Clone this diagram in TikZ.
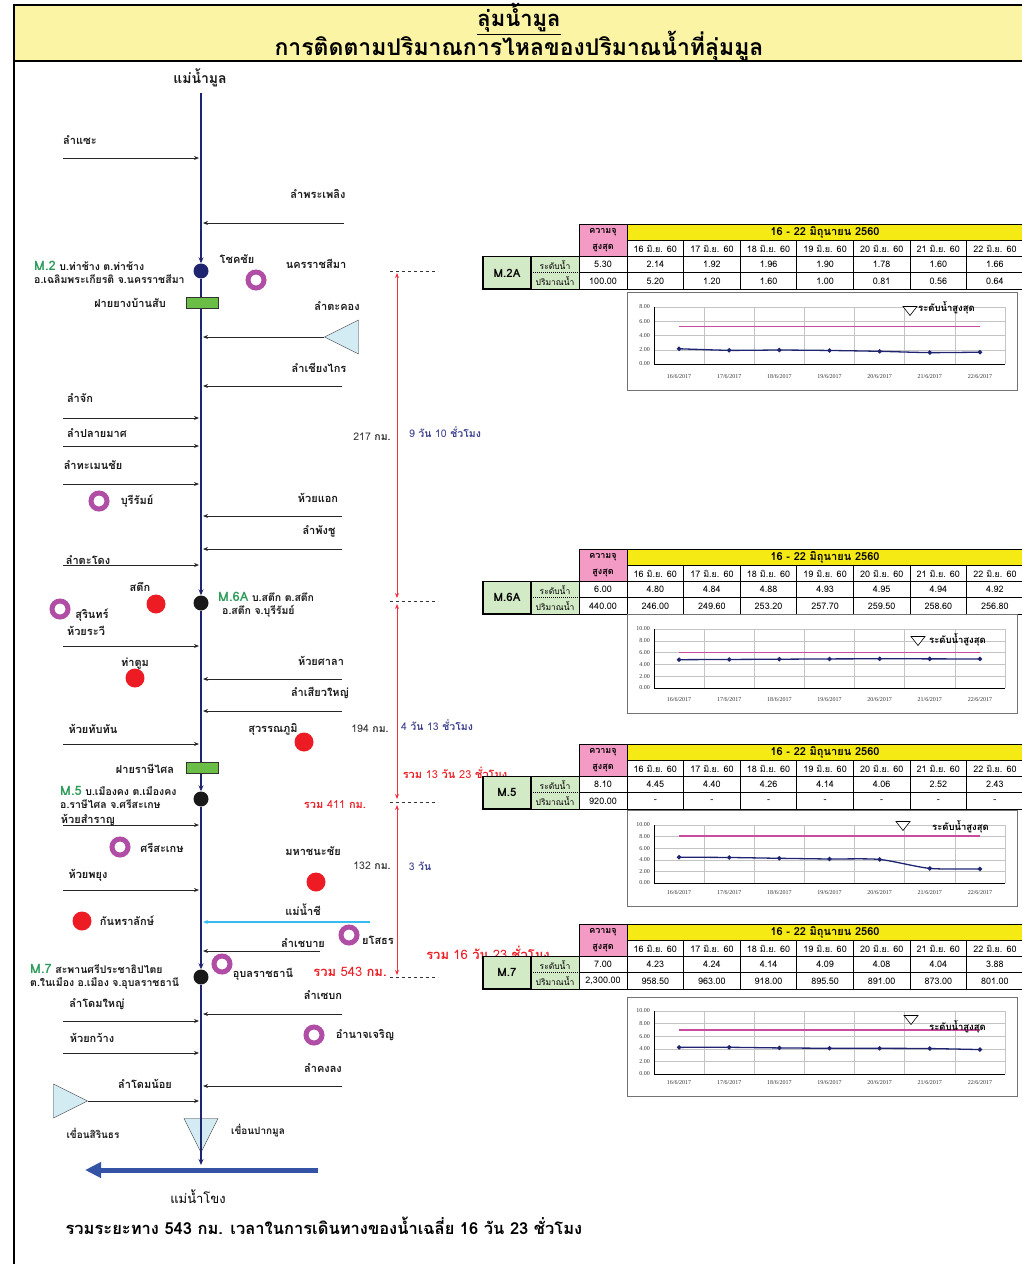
\documentclass[tikz,border=0pt]{standalone}
\usepackage{fontspec}
\setmainfont{Loma}[Script=Thai]
\newfontfamily\chartfont{Liberation Serif}
\usepackage{xcolor}
\usepackage{tikz}
\usetikzlibrary{positioning,arrows.meta,calc,shapes.geometric}
\definecolor{MUNnavy}{HTML}{1F2470}
\definecolor{MUNband}{HTML}{FBF4A4}
\definecolor{MUNyellow}{HTML}{F6EA14}
\definecolor{MUNpink}{HTML}{F39AC5}
\definecolor{MUNcell}{HTML}{D3EAC7}
\definecolor{MUNweir}{HTML}{6ABD45}
\definecolor{MUNpurple}{HTML}{B04EA6}
\definecolor{MUNred}{HTML}{ED1C24}
\definecolor{MUNdist}{HTML}{F2333F}
\definecolor{MUNdam}{HTML}{D3ECF4}
\definecolor{MUNchi}{HTML}{36BDEF}
\definecolor{MUNmekong}{HTML}{3453A4}
\definecolor{MUNstation}{HTML}{2E9C5A}
\definecolor{MUNtime}{HTML}{3B3F8C}
\definecolor{MUNmax}{HTML}{C94A9E}
\definecolor{MUNgrid}{HTML}{C4C4C4}
\newcommand{\txtsize}[1]{\fontsize{#1}{#1}\selectfont}
\tikzset{
  riverarr/.style={-{Stealth[length=6pt,width=5pt]}, draw=MUNnavy, line width=1.6pt},
  tribarr/.style={-{Stealth[length=5pt,width=4pt]}, draw=black!85, line width=0.9pt},
  chiarr/.style={tribarr, draw=MUNchi, line width=1.4pt},
  mekongarr/.style={-{Triangle[length=16pt,width=15pt]}, draw=MUNmekong, line width=5pt},
  distarr/.style={{Stealth[length=5pt,width=4pt]}-{Stealth[length=5pt,width=4pt]}, draw=MUNdist, line width=0.9pt},
  markline/.style={dashed, draw=black!80, line width=0.7pt},
  riverlab/.style={font=\txtsize{11}\bfseries, text=black!90, inner sep=1pt},
  stalab/.style={font=\fontsize{10.5}{13}\selectfont\bfseries, align=left, inner sep=0pt, text=black!90},
  titletext/.style={font=\txtsize{22}\bfseries, text=black},
  distlab/.style={font=\txtsize{10.5}, text=black!80},
  timelab/.style={font=\txtsize{10.5}, text=MUNtime},
  sumlab/.style={font=\txtsize{11}, text=MUNred},
  stadot/.style={circle, fill=black!90, minimum size=15pt, inner sep=0pt},
  cityring/.style={circle, draw=MUNpurple, line width=5pt, fill=white, minimum size=16pt, inner sep=0pt},
  citydot/.style={circle, fill=MUNred, minimum size=19pt, inner sep=0pt},
  weir/.style={draw=black!80, fill=MUNweir, minimum width=32pt, minimum height=11pt, inner sep=0pt},
  damtri/.style={isosceles triangle, isosceles triangle stretches, draw=black!80, fill=MUNdam, minimum width=34pt, minimum height=34pt, inner sep=0pt},
  tabcell/.style={draw=black, line width=1pt, minimum height=16.3pt, inner sep=0pt, font=\txtsize{9}},
  percell/.style={tabcell, fill=MUNyellow, minimum width=396pt, font=\txtsize{11}\bfseries},
  capcell/.style={tabcell, fill=MUNpink, minimum width=48pt, minimum height=32.6pt, align=center, font=\fontsize{9}{16}\selectfont\bfseries},
  datecell/.style={tabcell, minimum width=56.6pt},
  namecell/.style={tabcell, fill=MUNcell, minimum width=48pt, minimum height=32.6pt, line width=1.6pt, font=\txtsize{11.5}\bfseries},
  labcell/.style={fill=MUNcell, minimum width=48pt, minimum height=16.3pt, inner sep=0pt, font=\txtsize{8.5}},
  valcell/.style={tabcell, minimum width=48pt},
  chartframe/.style={draw=black!55, line width=1pt},
  gridline/.style={draw=MUNgrid, line width=0.5pt},
  axisline/.style={draw=black, line width=0.9pt},
  maxline/.style={draw=MUNmax, line width=1.2pt},
  dataline/.style={draw=MUNnavy, line width=1.3pt},
  datamark/.style={diamond, fill=MUNnavy, minimum size=5pt, inner sep=0pt},
  axislab/.style={font=\chartfont\txtsize{6}, text=black!80, inner sep=1pt},
  legtri/.style={draw=black, fill=white, line width=0.6pt},
  legtext/.style={font=\txtsize{9.5}\bfseries, text=black, inner sep=0pt, anchor=west}
}

% table of one station: id, top, station, max level, max flow, levels, flows
\newcommand{\stationtable}[7]{%
  \node[capcell] (#1-cap) at (603,{#2+16.3}) {ความจุ\\สูงสุด};
  \node[percell] (#1-per) at (825,{#2+8.15}) {16 - 22 มิถุนายน 2560};
  \foreach \dd [count=\i] in {16,...,22}
    \node[datecell] (#1-d\i) at ({627+(\i-0.5)*56.6},{#2+24.45}) {\dd{} มิ.ย. 60};
  \node[namecell] (#1-name) at (507,{#2+48.9}) {#3};
  \node[labcell] (#1-lvl) at (555,{#2+40.75}) {ระดับน้ำ};
  \node[labcell] (#1-flw) at (555,{#2+57.05}) {ปริมาณน้ำ};
  \draw[line width=1pt] (531,{#2+32.6}) rectangle (579,{#2+65.2});
  \draw[densely dotted, line width=1pt] (531,{#2+48.9}) -- (579,{#2+48.9});
  \node[valcell] (#1-maxl) at (603,{#2+40.75}) {#4};
  \node[valcell] (#1-maxf) at (603,{#2+57.05}) {#5};
  \foreach \v [count=\i] in {#6}
    \node[valcell, minimum width=56.6pt] (#1-l\i) at ({627+(\i-0.5)*56.6},{#2+40.75}) {\v};
  \foreach \v [count=\i] in {#7}
    \node[valcell, minimum width=56.6pt] (#1-f\i) at ({627+(\i-0.5)*56.6},{#2+57.05}) {\v};
}

% chart: id, box top, box bottom, plot top, plot bottom, y max, max level, levels
\newcommand{\levelchart}[8]{%
  \draw[chartframe] (627,#2) rectangle (1017,#3);
  \foreach \k in {1,...,7}
    \draw[gridline] ({654+\k*50.14},#4) -- ({654+\k*50.14},#5);
  \foreach \g in {0,2,...,#6} {
    \draw[gridline] (654,{#5-\g/#6*(#5-#4)}) -- (1005,{#5-\g/#6*(#5-#4)});
    \node[axislab, anchor=east] (#1-y\g) at (651,{#5-\g/#6*(#5-#4)}) {\g.00};
  }
  \draw[axisline] (654,#4) -- (654,#5) -- (1005,#5);
  \draw[maxline] ({654+0.5*50.14},{#5-#7/#6*(#5-#4)}) -- ({654+6.5*50.14},{#5-#7/#6*(#5-#4)});
  \foreach \dd [count=\i] in {16,...,22}
    \node[axislab] (#1-x\i) at ({654+(\i-0.5)*50.14},{#3-13}) {\dd/6/2017};
  \gdef\ptlist{}%
  \foreach \v [count=\i] in {#8} {
    \pgfmathsetmacro\px{654+(\i-0.5)*50.14}
    \pgfmathsetmacro\py{#5-\v/#6*(#5-#4)}
    \xdef\ptlist{\ptlist (\px,\py)}
  }
  \edef\plotcmd{\noexpand\draw[dataline] plot[smooth, tension=0.45] coordinates {\ptlist};}\plotcmd
  \foreach \v [count=\i] in {#8}
    \node[datamark] (#1-p\i) at ({654+(\i-0.5)*50.14},{#5-\v/#6*(#5-#4)}) {};
}

% legend: id, triangle x, triangle y, text x, text y
\newcommand{\legendmark}[5]{%
  \coordinate (#1-leg) at (#2,#3);
  \draw[legtri] ($(#1-leg)+(-7,-4.5)$) -- ($(#1-leg)+(7,-4.5)$) -- ($(#1-leg)+(0,4.5)$) -- cycle;
  \node[legtext] (#1-legtext) at (#4,#5) {ระดับน้ำสูงสุด};
}

\begin{document}
\begin{tikzpicture}[x=1pt, y=-1pt]
\useasboundingbox (0,0) rectangle (1022,1264);
% header
\fill[MUNband] (14,5) rectangle (1022,61);
\draw[line width=2.2pt] (1022,5) -- (14,5) -- (14,1264);
\draw[line width=2.2pt] (14,61) -- (1022,61);
\node[titletext] (title) at (519,19) {\underline{ลุ่มน้ำมูล}};
\node[titletext, font=\txtsize{23}\bfseries] (subtitle) at (519,46) {การติดตามปริมาณการไหลของปริมาณน้ำที่ลุ่มมูล};

% main river
\node[riverlab, font=\txtsize{14}\bfseries] (mun) at (200,78) {แม่น้ำมูล};
\coordinate (mun-top) at (201,93);
\coordinate (mun-end) at (201,1165);
\node[stadot, fill=MUNnavy] (m2) at (201,271) {};
\node[stadot] (m6a) at (201,603) {};
\node[stadot] (m5) at (201,799) {};
\node[stadot] (m7) at (201,977) {};
\node[damtri, shape border rotate=270, anchor=apex] (pakmun) at (201,1153) {};
\draw[riverarr] (mun-top) -- (m2);
\draw[riverarr] (m2) -- (m6a);
\draw[riverarr] (m6a) -- (m5);
\draw[riverarr] (m5) -- (m7);
\draw[riverarr] (m7) -- (mun-end);
\node[weir] (bansap) at (202,303) {};
\node[weir] (rasi) at (202,768) {};
\node[riverlab] (bansap-lab) at (130,303) {ฝายยางบ้านสับ};
\node[riverlab] (rasi-lab) at (145,769) {ฝายราษีไศล};

% tributaries from the left
\foreach \id/\ty/\lx/\ly/\txt in {sae/158/80/140/ลำแซะ, chak/418/80/398/ลำจัก, plm/446/97/433/ลำปลายมาศ,
    tmc/484/93/465/ลำทะเมนชัย, tdg/565/88/560/ลำตะโดง, rawi/646/86/631/ห้วยระวี, tt/744/93/729/ห้วยทับทัน,
    sr/825/88/820/ห้วยสำราญ, py/890/88/875/ห้วยพยุง, dy/1021/97/1004/ลำโดมใหญ่, kw/1053/92/1038/ห้วยกว้าง}{
  \coordinate (\id-s) at (63,\ty);
  \coordinate (\id-e) at (199,\ty);
  \draw[tribarr] (\id-s) -- (\id-e);
  \node[riverlab] (\id) at (\lx,\ly) {\txt};
}
% tributaries from the right
\foreach \id/\sx/\ty/\lx/\ly/\txt in {ppl/344/223/318/194/ลำพระเพลิง, cgk/342/386/319/368/ลำเชียงไกร,
    aek/342/516/318/498/ห้วยแอก, pch/342/549/319/531/ลำพังชู, sl/342/679/321/661/ห้วยศาลา,
    sy/342/711/320/693/ลำเสียวใหญ่, cb/320/951/303/943/ลำเชบาย, sb/342/1014/323/995/ลำเซบก,
    kl/342/1086/323/1068/ลำคงลง}{
  \coordinate (\id-s) at (\sx,\ty);
  \coordinate (\id-e) at (203,\ty);
  \draw[tribarr] (\id-s) -- (\id-e);
  \node[riverlab] (\id) at (\lx,\ly) {\txt};
}
\node[damtri, shape border rotate=180, anchor=apex] (takhong-dam) at (324,337) {};
\coordinate (takhong-e) at (203,337);
\draw[tribarr] (takhong-dam.apex) -- (takhong-e);
\node[riverlab] (takhong) at (337,306) {ลำตะคอง};
\node[damtri, anchor=apex] (sirindhorn) at (88,1101) {};
\coordinate (domnoi-e) at (199,1101);
\draw[tribarr] (sirindhorn.apex) -- (domnoi-e);
\node[riverlab] (domnoi) at (145,1084) {ลำโดมน้อย};
\node[riverlab, font=\txtsize{10}\bfseries] (sirindhorn-lab) at (93,1133) {เขื่อนสิรินธร};
\node[riverlab, font=\txtsize{10}\bfseries] (pakmun-lab) at (258,1131) {เขื่อนปากมูล};
\coordinate (chi-s) at (370,922);
\coordinate (chi-e) at (203,922);
\draw[chiarr] (chi-s) -- (chi-e);
\node[riverlab] (chi) at (303,910) {แม่น้ำชี};

% stations
\node[stalab, anchor=west] (m2-lab) at (34,272) {{\color{MUNstation}\txtsize{13}M.2} บ.ท่าช้าง ต.ท่าช้าง\\อ.เฉลิมพระเกียรติ จ.นครราชสีมา};
\node[stalab, anchor=west] (m6a-lab) at (218,605) {{\color{MUNstation}\txtsize{13}M.6A} บ.สตึก ต.สตึก\\\hspace{4pt}อ.สตึก จ.บุรีรัมย์};
\node[stalab, anchor=west] (m5-lab) at (60,797) {{\color{MUNstation}\txtsize{13}M.5} บ.เมืองคง ต.เมืองคง\\อ.ราษีไศล จ.ศรีสะเกษ};
\node[stalab, anchor=west] (m7-lab) at (30,977) {{\color{MUNstation}\txtsize{13}M.7} สะพานศรีประชาธิปไตย\\ต.ในเมือง อ.เมือง จ.อุบลราชธานี};

% towns
\node[cityring] (korat) at (256,280) {};
\node[riverlab] (chokchai) at (237,259) {โชคชัย};
\node[riverlab] (korat-lab) at (316,264) {นครราชสีมา};
\node[cityring] (buriram) at (99,501) {};
\node[riverlab] (buriram-lab) at (137,501) {บุรีรัมย์};
\node[citydot] (satuek) at (156,604) {};
\node[riverlab] (satuek-lab) at (140,587) {สตึก};
\node[cityring] (surin) at (60,609) {};
\node[riverlab] (surin-lab) at (92,615) {สุรินทร์};
\node[citydot] (thatum) at (135,678) {};
\node[riverlab] (thatum-lab) at (135,664) {ท่าตูม};
\node[citydot] (suwan) at (304,742) {};
\node[riverlab] (suwan-lab) at (273,729) {สุวรรณภูมิ};
\node[cityring] (sisaket) at (120,847) {};
\node[riverlab] (sisaket-lab) at (162,848) {ศรีสะเกษ};
\node[citydot] (mahachana) at (316,882) {};
\node[riverlab] (mahachana-lab) at (313,851) {มหาชนะชัย};
\node[citydot] (kanthara) at (82,921) {};
\node[riverlab] (kanthara-lab) at (127,921) {กันทราลักษ์};
\node[cityring] (yasothon) at (349,935) {};
\node[riverlab] (yasothon-lab) at (378,940) {ยโสธร};
\node[cityring] (ubon) at (222,964) {};
\node[riverlab] (ubon-lab) at (263,974) {อุบลราชธานี};
\node[cityring] (amnat) at (314,1035) {};
\node[riverlab] (amnat-lab) at (365,1035) {อำนาจเจริญ};

% distances and travel times
\foreach \k/\yy in {1/271, 2/601, 3/802, 4/977}{
  \coordinate (dist\k) at (397,\yy);
  \coordinate (dist\k-w) at (390,\yy);
  \coordinate (dist\k-e) at (438,\yy);
  \draw[markline] (dist\k-w) -- (dist\k-e);
}
\draw[distarr] ([yshift=-2pt]dist1) -- ([yshift=3pt]dist2);
\draw[distarr] ([yshift=-3pt]dist2) -- ([yshift=3pt]dist3);
\draw[distarr] ([yshift=-3pt]dist3) -- ([yshift=2pt]dist4);
\node[distlab] (km1) at (372,437) {217 \textbf{กม.}};
\node[timelab] (tm1) at (445,432) {9 \textbf{วัน} 10 \textbf{ชั่วโมง}};
\node[distlab] (km2) at (370,729) {194 \textbf{กม.}};
\node[timelab] (tm2) at (437,725) {4 \textbf{วัน} 13 \textbf{ชั่วโมง}};
\node[sumlab] (sumt2) at (455,773) {\textbf{รวม} 13 \textbf{วัน} 23 \textbf{ชั่วโมง}};
\node[sumlab] (sumk2) at (335,805) {\textbf{รวม} 411 \textbf{กม.}};
\node[distlab] (km3) at (372,866) {132 \textbf{กม.}};
\node[timelab] (tm3) at (420,866) {3 \textbf{วัน}};
\node[sumlab, font=\txtsize{13}] (sumt3) at (488,953) {\textbf{รวม} 16 \textbf{วัน} 23 \textbf{ชั่วโมง}};
\node[sumlab, font=\txtsize{13}] (sumk3) at (350,972) {\textbf{รวม} 543 \textbf{กม.}};

% Mekong
\coordinate (mekong-s) at (318,1170);
\coordinate (mekong-e) at (85,1170);
\draw[mekongarr] (mekong-s) -- (mekong-e);
\node[font=\txtsize{13}] (mekong) at (198,1197) {แม่น้ำโขง};
\node[font=\txtsize{16.5}\bfseries, anchor=west] (summary) at (62,1226) {รวมระยะทาง 543 กม. เวลาในการเดินทางของน้ำเฉลี่ย 16 วัน 23 ชั่วโมง};

% station tables and charts
\stationtable{m2a}{224}{M.2A}{5.30}{100.00}{2.14,1.92,1.96,1.90,1.78,1.60,1.66}{5.20,1.20,1.60,1.00,0.81,0.56,0.64}
\levelchart{m2a}{292}{390}{307}{364}{8}{5.30}{2.14,1.92,1.96,1.90,1.78,1.60,1.66}
\legendmark{m2a}{910}{311}{918}{308}

\stationtable{m6a}{549}{M.6A}{6.00}{440.00}{4.80,4.84,4.88,4.93,4.95,4.94,4.92}{246.00,249.60,253.20,257.70,259.50,258.60,256.80}
\levelchart{m6a}{614}{713}{629}{688}{10}{6.00}{4.80,4.84,4.88,4.93,4.95,4.94,4.92}
\legendmark{m6a}{918}{641}{929}{640}

\stationtable{m5}{744}{M.5}{8.10}{920.00}{4.45,4.40,4.26,4.14,4.06,2.52,2.43}{-,-,-,-,-,-,-}
\levelchart{m5}{810}{906}{825}{883}{10}{8.10}{4.45,4.40,4.26,4.14,4.06,2.52,2.43}
\legendmark{m5}{903}{826}{932}{827}

\stationtable{m7}{924}{M.7}{7.00}{2,300.00}{4.23,4.24,4.14,4.09,4.08,4.04,3.88}{958.50,963.00,918.00,895.50,891.00,873.00,801.00}
\levelchart{m7}{997}{1096}{1011}{1074}{10}{7.00}{4.23,4.24,4.14,4.09,4.08,4.04,3.88}
\legendmark{m7}{911}{1020}{929}{1027}
\end{tikzpicture}
\end{document}
